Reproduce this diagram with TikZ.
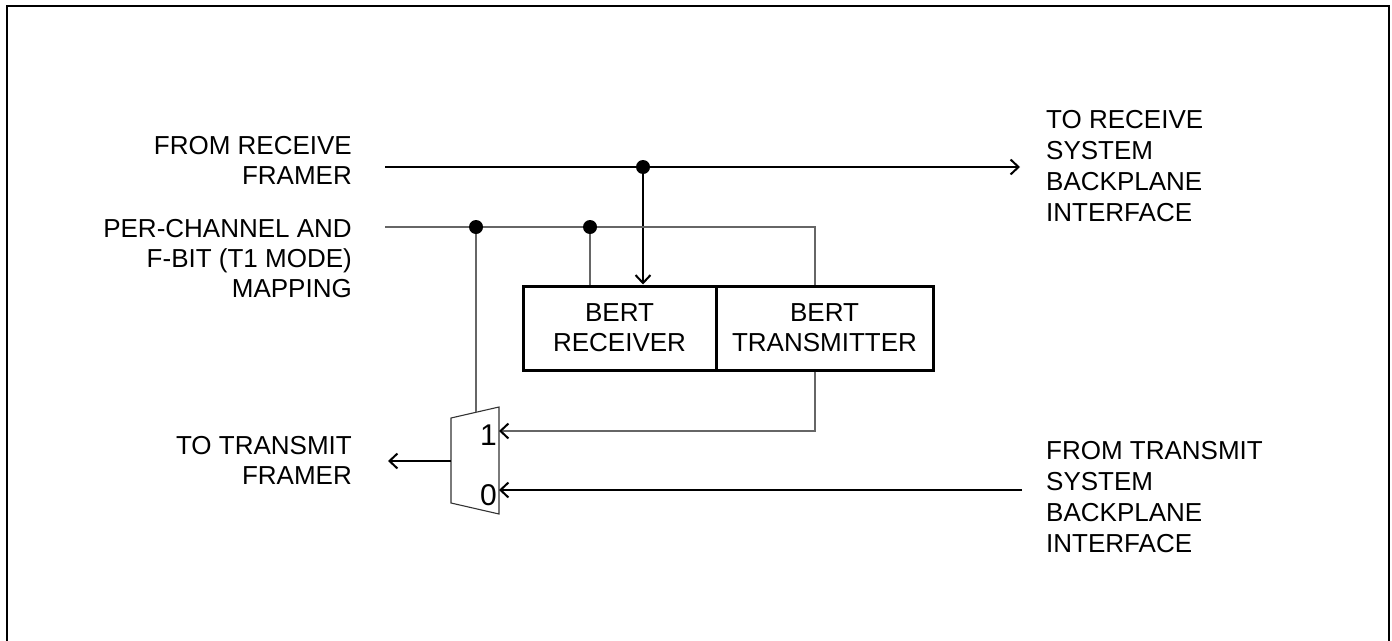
\documentclass[tikz,border=0pt]{standalone}
\usepackage{fontspec}
\setmainfont{Liberation Sans}
\usetikzlibrary{arrows.meta}
\begin{document}
\begin{tikzpicture}[x=1pt,y=-1pt,
  lbl/.style={inner sep=0pt,font=\fontsize{26}{30}\selectfont},
  lblw/.style={inner sep=0pt,font=\fontsize{26}{31}\selectfont},
  wire/.style={line width=1.3pt,black},
  thin/.style={line width=1.1pt,black!60},
  arr/.style={-{Straight Barb[length=8pt,width=15pt,line width=2pt,color=black]}},
  blk/.style={draw,line width=3pt,minimum height=84pt,inner sep=0pt,align=center,font=\fontsize{26}{30}\selectfont},
  dot/.style={circle,fill=black,inner sep=0pt,minimum size=14pt}]
\useasboundingbox (0,0) rectangle (1392,640);
\draw[line width=2.6pt] (7,700) -- (7,6) -- (1389,6) -- (1389,700);
% labels
\node[lbl,anchor=north east,align=right] (l1) at (352,136) {FROM RECEIVE\\FRAMER};
\node[lbl,anchor=north east,align=right] (l2) at (352,219) {PER-CHANNEL AND\\F-BIT (T1 MODE)\\MAPPING};
\node[lbl,anchor=north east,align=right] (l3) at (352,436) {TO TRANSMIT\\FRAMER};
\node[lblw,anchor=north west,align=left] (r1) at (1046,110) {TO RECEIVE\\SYSTEM\\BACKPLANE\\INTERFACE};
\node[lblw,anchor=north west,align=left] (r2) at (1046,441) {FROM TRANSMIT\\SYSTEM\\BACKPLANE\\INTERFACE};
% blocks
\node[blk,minimum width=193pt] (rx) at (619.5,328) {BERT\\RECEIVER};
\node[blk,minimum width=217pt] (tx) at (824.5,328) {BERT\\TRANSMITTER};
% mux
\coordinate (m1) at (451,418);
\coordinate (m2) at (499,407);
\coordinate (m3) at (499,514);
\coordinate (m4) at (451,503);
\draw[line width=1.1pt,black!80] (m1) -- (m2) -- (m3) -- (m4) -- cycle;
\coordinate (mtop) at (476,412.3);
\coordinate (mout) at (451,461);
\coordinate (min1) at (499,431);
\coordinate (min0) at (499,490);
\node[inner sep=0pt,anchor=base east,font=\fontsize{30}{30}\selectfont] (one) at (497,445) {1};
\node[inner sep=0pt,anchor=base east,font=\fontsize{30}{30}\selectfont] (zero) at (497,505) {0};
% wire endpoints
\coordinate (a0) at (385,167);
\coordinate (a1) at (1020,167);
\coordinate (b0) at (385,227);
\coordinate (b1) at (815,227);
\coordinate (c1) at (1022,490);
\coordinate (tout) at (388,461);
\coordinate (j1) at (643,167);
\coordinate (j2) at (476,227);
\coordinate (j3) at (590,227);
% wires
\draw[wire,arr] (a0) -- (a1);
\draw[wire,arr] (j1) -- (j1 |- rx.north);
\draw[thin] (b0) -- (b1) -- (b1 |- tx.north);
\draw[thin] (j3) -- (j3 |- rx.north);
\draw[thin] (j2) -- (mtop);
\draw[thin,arr] (tx.south -| b1) |- (min1);
\draw[wire,arr] (c1) -- (min0);
\draw[wire,arr] (mout) -- (tout);
% junction dots
\node[dot] (d1) at (j1) {};
\node[dot] (d2) at (j2) {};
\node[dot] (d3) at (j3) {};
\end{tikzpicture}
\end{document}
